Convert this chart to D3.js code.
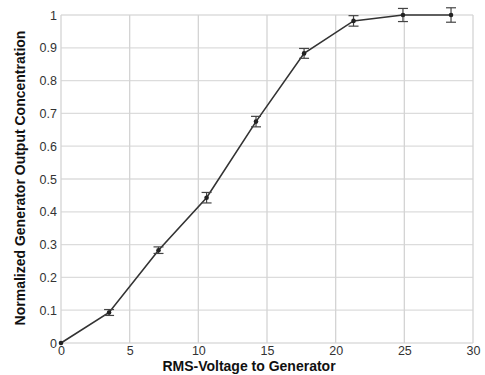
<!DOCTYPE html>
<html><head><meta charset="utf-8">
<script src="https://cdn.jsdelivr.net/npm/d3@7"></script>
<style>body{margin:0;background:#fff}svg{display:block}</style>
</head><body>
<script>
const voltage = [0, 3.5, 7.1, 10.6, 14.2, 17.7, 21.3, 24.9, 28.4];
const concentration = [0, 0.093, 0.283, 0.443, 0.675, 0.883, 0.982, 1.0, 1.0];
const errorBar = [0.004, 0.009, 0.01, 0.016, 0.016, 0.015, 0.016, 0.02, 0.022];
const xTicks = [0, 5, 10, 15, 20, 25, 30];
const yTicks = [0, 0.1, 0.2, 0.3, 0.4, 0.5, 0.6, 0.7, 0.8, 0.9, 1];
const xTitle = "RMS-Voltage to Generator";
const yTitle = "Normalized Generator Output Concentration";

const W = 485, H = 375;
const svg = d3.select("body").append("svg").attr("width", W).attr("height", H);
const x = d3.scaleLinear().domain([0, 30]).range([61, 473]);
const y = d3.scaleLinear().domain([0, 1]).range([343, 15]);
const font = "'Liberation Sans', Arial, sans-serif";

// grid
svg.append("g").selectAll("line").data(yTicks).join("line")
  .attr("x1", x(0)).attr("x2", x(30)).attr("y1", d => y(d)).attr("y2", d => y(d))
  .attr("stroke", "#dcdcdc").attr("stroke-width", 1.3);
svg.append("g").selectAll("line").data(xTicks).join("line")
  .attr("y1", y(0)).attr("y2", y(1)).attr("x1", d => x(d)).attr("x2", d => x(d))
  .attr("stroke", "#d4d4d4").attr("stroke-width", 1.3);

// axes
const xAxis = d3.axisBottom(x).tickValues(xTicks).tickSize(0).tickPadding(3).tickFormat(d3.format("d"));
const gx = svg.append("g").attr("transform", `translate(0,${y(0)})`).call(xAxis);
gx.select(".domain").remove();
gx.selectAll("text").attr("font-family", font).attr("font-size", 12.5).attr("fill", "#333");

const yAxis = d3.axisLeft(y).tickValues(yTicks).tickSize(0).tickPadding(4).tickFormat(d => d === 0 || d === 1 ? String(d) : d3.format(".1f")(d));
const gy = svg.append("g").attr("transform", `translate(${x(0)},0)`).call(yAxis);
gy.select(".domain").remove();
gy.selectAll("text").attr("font-family", font).attr("font-size", 12.5).attr("fill", "#333");

// titles
svg.append("text").attr("x", 249).attr("y", 371).attr("text-anchor", "middle")
  .attr("font-family", font).attr("font-weight", "bold").attr("font-size", 14).attr("fill", "#111")
  .text(xTitle);
svg.append("text").attr("transform", `translate(25,178) rotate(-90)`).attr("text-anchor", "middle")
  .attr("font-family", font).attr("font-weight", "bold").attr("font-size", 14).attr("fill", "#111")
  .text(yTitle);

const data = voltage.map((v, i) => ({ v, c: concentration[i], e: errorBar[i] }));

// line
svg.append("path").datum(data)
  .attr("d", d3.line().x(d => x(d.v)).y(d => y(d.c)))
  .attr("fill", "none").attr("stroke", "#333").attr("stroke-width", 1.6);

// error bars
const eb = svg.append("g").attr("stroke", "#444").attr("stroke-width", 1.2);
data.forEach(d => {
  if (d.e <= 0.005) return;
  eb.append("line").attr("x1", x(d.v)).attr("x2", x(d.v)).attr("y1", y(d.c - d.e)).attr("y2", y(d.c + d.e));
  [d.c - d.e, d.c + d.e].forEach(t => eb.append("line")
    .attr("x1", x(d.v) - 5).attr("x2", x(d.v) + 5).attr("y1", y(t)).attr("y2", y(t)));
});

// markers
svg.append("g").selectAll("circle").data(data).join("circle")
  .attr("cx", d => x(d.v)).attr("cy", d => y(d.c)).attr("r", 2.3).attr("fill", "#222");
</script>
</body></html>
